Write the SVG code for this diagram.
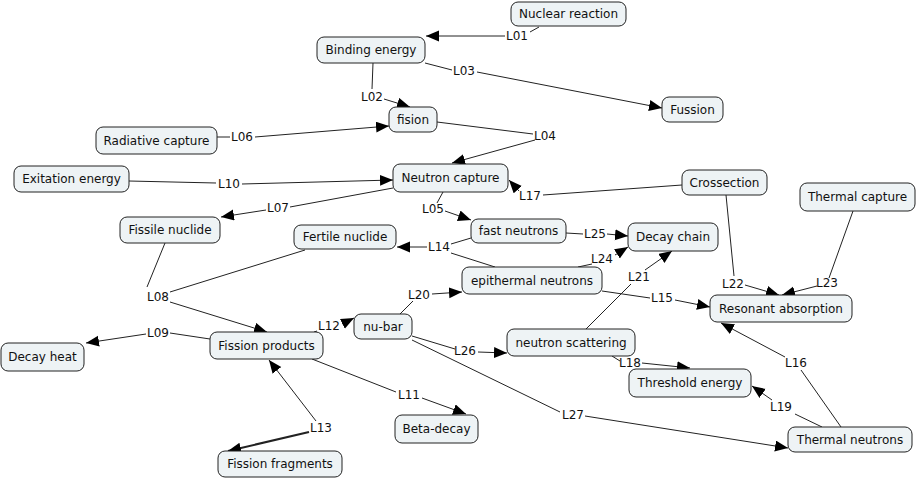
<svg xmlns="http://www.w3.org/2000/svg" width="918" height="479" viewBox="0 0 918 479">
<style>
.n rect{fill:#eef3f5;stroke:#222;stroke-width:1;}
text{font-family:"DejaVu Sans","Verdana",sans-serif;font-size:12px;fill:#111;text-anchor:middle;}
.c path{fill:none;stroke:#222;stroke-width:1;}
.c path.a{marker-end:url(#ah);}
.c path.t{stroke-width:2;}
</style>
<defs>
<marker id="ah" markerUnits="userSpaceOnUse" markerWidth="14" markerHeight="12" refX="13" refY="5.5" orient="auto" viewBox="0 0 14 12">
<path d="M0,0 L13,5.5 L0,11 z" fill="#000"/>
</marker>
</defs>
<rect width="918" height="479" fill="#fff"/>
<g class="c" id="connectors">
<path d="M539,27 L530,32"/><path class="a" d="M505,36 L426,36"/><text x="517" y="40">L01</text>
<path d="M373,63 L372,89"/><path class="a" d="M384,99 L410,107"/><text x="372" y="101">L02</text>
<path d="M425,63 L452,70"/><path class="a" d="M477,72 L662,108"/><text x="464" y="75">L03</text>
<path d="M437,122 L533,134"/><path class="a" d="M535,140 L452,163"/><text x="545" y="140">L04</text>
<path d="M443,192 L437,203"/><path class="a" d="M445,211 L471,220"/><text x="433" y="213">L05</text>
<path d="M217,137 L230,137"/><path class="a" d="M255,137 L389,126"/><text x="242" y="141">L06</text>
<path d="M393,188 L290,207"/><path class="a" d="M266,210 L221,217"/><text x="278" y="212">L07</text>
<path d="M165,243 L147,287"/><path d="M305,250 L170,292"/><path class="a" d="M170,302 L267,332"/><text x="158" y="301">L08</text>
<path d="M210,339 L170,333"/><path class="a" d="M146,334 L86,343"/><text x="158" y="337">L09</text>
<path d="M129,181 L216,183"/><path class="a" d="M242,184 L393,180"/><text x="229" y="188">L10</text>
<path d="M312,359 L396,392"/><path class="a" d="M422,398 L466,414"/><text x="409" y="399">L11</text>
<path d="M314,332 L317,331"/><path class="a" d="M342,324 L354,318"/><text x="329" y="330">L12</text>
<path class="a" d="M316,421 L269,360"/><path class="a t" d="M309,432 L228,451"/><text x="321" y="432">L13</text>
<path d="M471,238 L451,244"/><path d="M495,267 L451,253"/><path class="a" d="M427,247 L397,247"/><text x="439" y="251">L14</text>
<path d="M602,291 L650,298"/><path class="a" d="M675,300 L710,307"/><text x="662" y="302">L15</text>
<path d="M841,427 L801,370"/><path class="a" d="M785,357 L721,323"/><text x="796" y="367">L16</text>
<path d="M682,185 L543,195"/><path class="a" d="M519,191 L509,180"/><text x="530" y="200">L17</text>
<path d="M612,356 L620,361"/><path class="a" d="M642,363 L690,368"/><text x="630" y="367">L18</text>
<path d="M822,427 L795,414"/><path class="a" d="M772,400 L752,386"/><text x="781" y="411">L19</text>
<path d="M400,314 L413,301"/><path class="a" d="M432,294 L462,292"/><text x="419" y="299">L20</text>
<path d="M586,329 L631,284"/><path class="a" d="M645,270 L672,251"/><text x="639" y="281">L21</text>
<path d="M726,195 L734,276"/><path class="a" d="M745,285 L779,295"/><text x="733" y="288">L22</text>
<path d="M853,211 L829,278"/><path class="a" d="M817,286 L782,295"/><text x="827" y="287">L23</text>
<path d="M578,267 L592,264"/><path class="a" d="M615,255 L628,247"/><text x="602" y="263">L24</text>
<path d="M566,233 L583,234"/><path class="a" d="M607,234 L628,236"/><text x="595" y="238">L25</text>
<path d="M412,336 L455,349"/><path class="a" d="M478,352 L507,353"/><text x="465" y="355">L26</text>
<path d="M412,340 L560,412"/><path class="a" d="M585,416 L788,448"/><text x="573" y="419">L27</text>
</g>
<g class="n" id="nuclear-reaction"><rect x="511" y="2" width="115" height="24" rx="7"/><text x="568.5" y="18">Nuclear reaction</text></g>
<g class="n" id="binding-energy"><rect x="317" y="37" width="108" height="26" rx="7"/><text x="371" y="54">Binding energy</text></g>
<g class="n" id="fision"><rect x="389" y="107" width="48" height="25" rx="7"/><text x="413" y="124">fision</text></g>
<g class="n" id="fussion"><rect x="662" y="97" width="61" height="25" rx="7"/><text x="692.5" y="114">Fussion</text></g>
<g class="n" id="radiative-capture"><rect x="96" y="127" width="121" height="27" rx="7"/><text x="156.5" y="145">Radiative capture</text></g>
<g class="n" id="exitation-energy"><rect x="14" y="166" width="115" height="26" rx="7"/><text x="71.5" y="183">Exitation energy</text></g>
<g class="n" id="fissile-nuclide"><rect x="120" y="217" width="100" height="26" rx="7"/><text x="170" y="234">Fissile nuclide</text></g>
<g class="n" id="neutron-capture"><rect x="393" y="164" width="115" height="28" rx="7"/><text x="450.5" y="182">Neutron capture</text></g>
<g class="n" id="fast-neutrons"><rect x="471" y="219" width="95" height="24" rx="7"/><text x="518.5" y="235">fast neutrons</text></g>
<g class="n" id="epithermal-neutrons"><rect x="462" y="267" width="140" height="27" rx="7"/><text x="532" y="285">epithermal neutrons</text></g>
<g class="n" id="fertile-nuclide"><rect x="294" y="225" width="102" height="24" rx="7"/><text x="345" y="241">Fertile nuclide</text></g>
<g class="n" id="decay-chain"><rect x="628" y="223" width="90" height="28" rx="7"/><text x="673" y="241">Decay chain</text></g>
<g class="n" id="crossection"><rect x="682" y="170" width="85" height="25" rx="7"/><text x="724.5" y="187">Crossection</text></g>
<g class="n" id="thermal-capture"><rect x="800" y="183" width="115" height="28" rx="7"/><text x="857.5" y="201">Thermal capture</text></g>
<g class="n" id="resonant-absorption"><rect x="710" y="295" width="142" height="27" rx="7"/><text x="781" y="313">Resonant absorption</text></g>
<g class="n" id="decay-heat"><rect x="1" y="343" width="83" height="28" rx="7"/><text x="42.5" y="361">Decay heat</text></g>
<g class="n" id="fission-products"><rect x="210" y="332" width="113" height="27" rx="7"/><text x="266.5" y="350">Fission products</text></g>
<g class="n" id="fission-fragments"><rect x="218" y="451" width="124" height="26" rx="7"/><text x="280" y="468">Fission fragments</text></g>
<g class="n" id="nu-bar"><rect x="354" y="314" width="58" height="25" rx="7"/><text x="383" y="331">nu-bar</text></g>
<g class="n" id="neutron-scattering"><rect x="507" y="329" width="128" height="27" rx="7"/><text x="571" y="347">neutron scattering</text></g>
<g class="n" id="beta-decay"><rect x="395" y="415" width="83" height="28" rx="7"/><text x="436.5" y="433">Beta-decay</text></g>
<g class="n" id="threshold-energy"><rect x="629" y="369" width="122" height="28" rx="7"/><text x="690" y="387">Threshold energy</text></g>
<g class="n" id="thermal-neutrons"><rect x="788" y="427" width="124" height="25" rx="7"/><text x="850" y="444">Thermal neutrons</text></g>
</svg>
